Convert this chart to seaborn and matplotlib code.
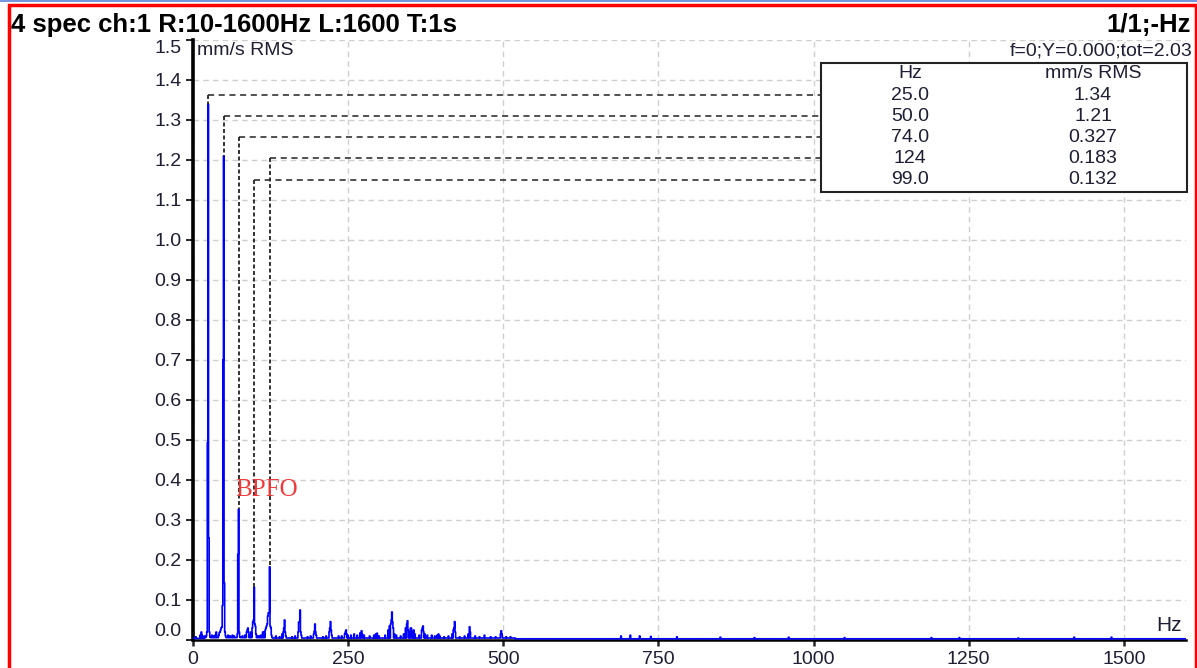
import numpy as np
import matplotlib
matplotlib.use("Agg")
import matplotlib.pyplot as plt
import seaborn as sns
from matplotlib.patches import Rectangle
from matplotlib.lines import Line2D

# spectrum with 1 Hz lines, 0-1600 Hz
freq_max = 1600

# background floor (piecewise level, mm/s RMS)
floor_edges = [0, 20, 60, 130, 260, 520, 800, 1601]
floor_levels = [0.004, 0.006, 0.006, 0.005, 0.005, 0.003, 0.003]

# visible lines (Hz) and their heights (mm/s RMS)
peak_hz = [5, 9, 12, 14, 15, 17, 19, 22, 23, 24, 25, 26, 27, 28,
           31, 33, 36, 38, 42, 43, 44, 45, 46, 47, 48, 49, 50, 51, 52, 53,
           57, 60, 64, 67, 72, 73, 74, 75, 76,
           80, 84, 87, 88, 89, 90, 92, 94, 96, 97, 98, 99, 100, 101, 102, 104,
           107, 110, 113, 115, 117, 118, 119, 120, 121, 122, 123, 124, 125, 126, 127,
           134, 140, 144, 146, 147, 148, 149, 150,
           160, 165, 170, 171, 172, 173, 174, 175,
           185, 190, 195, 196, 197, 198, 199,
           210, 215, 220, 221, 222, 223, 224,
           235, 240, 245, 246, 247, 248, 250,
           255, 260, 265, 270, 272, 273, 276,
           285, 292, 295, 297, 300,
           310, 315, 317, 319, 320, 321, 322, 323, 325, 328,
           335, 340, 343, 345, 346, 347, 349, 351, 352, 354, 356, 358,
           365, 369, 370, 371, 372, 374, 378,
           385, 390, 394, 396, 398,
           405, 412, 418, 420, 421, 422, 423, 430,
           438, 444, 446, 447, 455, 462, 470, 480, 488, 496, 497, 498, 505, 512,
           690, 705, 720, 738, 780, 850, 905, 960, 1050, 1190, 1235, 1330, 1420, 1480]
peak_amp = [0.008, 0.004, 0.012, 0.02, 0.012, 0.006, 0.01, 0.01, 0.02, 0.494, 1.34, 0.255, 0.02, 0.008,
            0.012, 0.01, 0.012, 0.02, 0.012, 0.018, 0.02, 0.025, 0.03, 0.032, 0.086, 0.70, 1.21, 0.143, 0.02, 0.01,
            0.012, 0.01, 0.012, 0.01, 0.015, 0.214, 0.327, 0.02, 0.008,
            0.01, 0.012, 0.02, 0.025, 0.03, 0.02, 0.012, 0.02, 0.03, 0.045, 0.05, 0.132, 0.04, 0.035, 0.015, 0.01,
            0.01, 0.012, 0.02, 0.02, 0.025, 0.03, 0.035, 0.04, 0.06, 0.068, 0.068, 0.183, 0.035, 0.03, 0.012,
            0.01, 0.008, 0.015, 0.02, 0.03, 0.05, 0.02, 0.01,
            0.008, 0.01, 0.02, 0.045, 0.045, 0.075, 0.02, 0.012,
            0.008, 0.01, 0.015, 0.022, 0.04, 0.02, 0.012,
            0.008, 0.01, 0.02, 0.03, 0.046, 0.025, 0.012,
            0.01, 0.01, 0.015, 0.02, 0.025, 0.015, 0.012,
            0.012, 0.015, 0.012, 0.018, 0.023, 0.015, 0.012,
            0.01, 0.012, 0.015, 0.017, 0.01,
            0.012, 0.025, 0.035, 0.04, 0.05, 0.07, 0.045, 0.03, 0.015, 0.012,
            0.01, 0.015, 0.03, 0.04, 0.048, 0.025, 0.02, 0.03, 0.03, 0.02, 0.025, 0.015,
            0.012, 0.025, 0.03, 0.035, 0.02, 0.015, 0.012,
            0.012, 0.01, 0.012, 0.015, 0.01,
            0.008, 0.01, 0.015, 0.025, 0.03, 0.046, 0.02, 0.008,
            0.01, 0.015, 0.033, 0.02, 0.01, 0.008, 0.012, 0.008, 0.008, 0.015, 0.023, 0.015, 0.008, 0.008,
            0.01, 0.012, 0.01, 0.009, 0.008, 0.007, 0.006, 0.007, 0.006, 0.006, 0.006, 0.005, 0.007, 0.007]

# marker table
marker_hz = [25, 50, 74, 124, 99]
marker_amp = [1.34, 1.21, 0.327, 0.183, 0.132]
marker_hz_txt = ["25.0", "50.0", "74.0", "124", "99.0"]
marker_amp_txt = ["1.34", "1.21", "0.327", "0.183", "0.132"]

x_ticks = [0, 250, 500, 750, 1000, 1250, 1500]
y_ticks = [0.0, 0.1, 0.2, 0.3, 0.4, 0.5, 0.6, 0.7, 0.8, 0.9, 1.0, 1.1, 1.2, 1.3, 1.4, 1.5]

title_left = "4 spec ch:1 R:10-1600Hz L:1600 T:1s"
title_right = "1/1;-Hz"
status_text = "f=0;Y=0.000;tot=2.03"

# build the spectrum
freq = np.arange(0, freq_max + 1)
amp = np.zeros(len(freq))
for lo, hi, lvl in zip(floor_edges[:-1], floor_edges[1:], floor_levels):
    amp[(freq >= lo) & (freq < hi)] = lvl
for f, a in zip(peak_hz, peak_amp):
    amp[f] = a

sns.set_style("white")
plt.rcParams["font.family"] = ["Liberation Sans", "DejaVu Sans"]
txt_col = "#1e1e34"
fs = 14

W, H = 1197, 668
fig = plt.figure(figsize=(W / 100, H / 100), dpi=100)
ax_l, ax_r, ax_t, ax_b = 192.7, 1186, 40, 640
ax = fig.add_axes([ax_l / W, 1 - ax_b / H, (ax_r - ax_l) / W, (ax_b - ax_t) / H])

sns.lineplot(x=freq, y=amp, ax=ax, color="#0000ff", lw=1.2,
             drawstyle="steps-mid", zorder=3)

ax.set_xlim(0, freq_max)
ax.set_ylim(0, 1.5)
ax.set_xticks(x_ticks)
ax.set_yticks(y_ticks)
ax.set_yticklabels([f"{v:.1f}" for v in y_ticks])
ax.set_xlabel("")
ax.set_ylabel("")
ax.grid(True, color="#cfcfcf", lw=1, linestyle=(0, (4, 3)))
for s in ["top", "right"]:
    ax.spines[s].set_visible(False)
ax.spines["left"].set_linewidth(2.6)
ax.spines["bottom"].set_linewidth(1.8)
ax.spines["left"].set_color("black")
ax.spines["bottom"].set_color("black")
ax.tick_params(axis="y", length=5, width=1.4, pad=3, labelsize=fs, labelcolor=txt_col, left=True)
ax.tick_params(axis="x", length=4, width=1.8, pad=4, labelsize=fs, labelcolor=txt_col, bottom=True)
ylabels = ax.get_yticklabels()
ylabels[0].set_va("bottom")
ylabels[-1].set_va("top")

# unit labels inside the axes
ax.text(0.004, 0.982, "mm/s RMS", transform=ax.transAxes, fontsize=fs,
        color=txt_col, va="center", ha="left")
ax.text(0.996, 0.008, "Hz", transform=ax.transAxes, fontsize=15,
        color=txt_col, va="bottom", ha="right")

# marker table
tab_left, tab_right = (820.7 - ax_l) / (ax_r - ax_l), (1186.7 - ax_l) / (ax_r - ax_l)
tab_top, tab_bot = 1 - (62.7 - ax_t) / 600, 1 - (191.7 - ax_t) / 600
ax.add_patch(Rectangle((tab_left, tab_bot), tab_right - tab_left, tab_top - tab_bot,
                       transform=ax.transAxes, fill=True, fc="white", ec="#222222",
                       lw=1.5, zorder=5, clip_on=False))
col_hz = (910 - ax_l) / (ax_r - ax_l)
col_amp = (1093 - ax_l) / (ax_r - ax_l)
header_y = 1 - (74 - ax_t) / 600
row_h = 21.1 / 600
ax.text(col_hz, header_y, "Hz", transform=ax.transAxes, ha="center", va="center",
        fontsize=fs, color=txt_col, zorder=6)
ax.text(col_amp, header_y, "mm/s RMS", transform=ax.transAxes, ha="center", va="center",
        fontsize=fs, color=txt_col, zorder=6)

ymax = ax.get_ylim()[1]
x_tab_data = tab_left * freq_max
for i, (hz, a, ht, at) in enumerate(zip(marker_hz, marker_amp, marker_hz_txt, marker_amp_txt)):
    ry = header_y - (i + 1) * row_h
    ax.text(col_hz, ry, ht, transform=ax.transAxes, ha="center", va="center",
            fontsize=fs, color=txt_col, zorder=6)
    ax.text(col_amp, ry, at, transform=ax.transAxes, ha="center", va="center",
            fontsize=fs, color=txt_col, zorder=6)
    ry_data = ry * ymax
    ax.plot([hz, x_tab_data], [ry_data, ry_data], color="#222222", lw=1.1,
            linestyle=(0, (4, 3)), zorder=4)
    ax.plot([hz, hz], [ry_data, a], color="#222222", lw=1.3,
            linestyle=(0, (2.2, 1.4)), zorder=4)

ax.text(119, 0.375, "BPFO", fontsize=18, color="#f03a3a", ha="center", va="center",
        family=["Liberation Serif", "DejaVu Serif"], zorder=6)

# header texts
fig.text(11 / W, 1 - 32 / H, title_left, fontsize=18.5, fontweight="bold",
         ha="left", va="baseline", color="black")
fig.text(1191 / W, 1 - 32 / H, title_right, fontsize=18.5, fontweight="bold",
         ha="right", va="baseline", color="black")
fig.text(1193 / W, 1 - 56 / H, status_text, fontsize=fs, ha="right",
         va="baseline", color=txt_col)

# window frame
fig.add_artist(Rectangle((9 / W, -0.1), (1195.5 - 9) / W, 1.1 - 5.3 / H,
                         transform=fig.transFigure, fill=False, ec="#ff0000", lw=2.5))
fig.add_artist(Line2D([0, 1], [1 - 0.8 / H] * 2, transform=fig.transFigure,
                      color="#5a80d8", lw=1.2))

fig.savefig("out.png", dpi=100)
